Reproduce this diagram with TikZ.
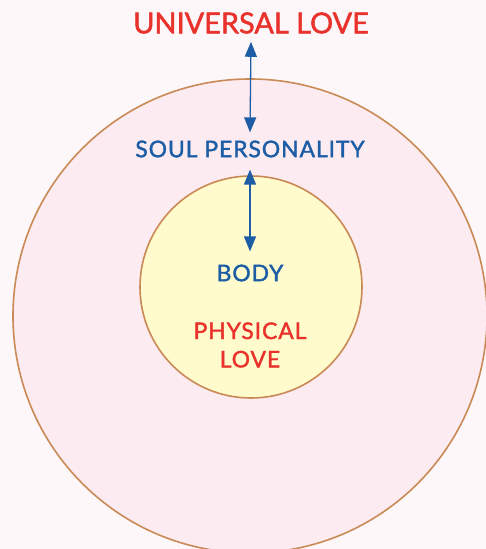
\documentclass[tikz,border=0pt]{standalone}
\usepackage{fontspec}
\setmainfont{Lato}
\newfontfamily\diagfont{Lato}[FakeBold=1.6]
\newfontfamily\diagwidefont{Lato}[FakeBold=1.6, LetterSpace=4]
\usepackage{xcolor}
\usetikzlibrary{arrows.meta}

\definecolor{pagebg}{HTML}{FDF7FA}
\definecolor{soulfill}{HTML}{FCEBF1}
\definecolor{bodyfill}{HTML}{FFFBCD}
\definecolor{rimcol}{HTML}{C98A55}
\definecolor{lovered}{HTML}{E8322B}
\definecolor{soulblue}{HTML}{1C5DA6}

\begin{document}
\begin{tikzpicture}[
    x=1bp, y=-1bp,
    ring/.style={
        circle,
        draw=rimcol,
        line width=1.6bp,
        inner sep=0pt
    },
    label/.style={
        font=\diagwidefont\fontsize{23}{28.5}\selectfont,
        align=center,
        inner sep=8bp
    },
    arrow/.style={{Triangle[length=15bp,width=12bp]}-{Triangle[length=15bp,width=12bp]}, line width=1.3bp, soulblue}
]

\fill[pagebg] (0,0) rectangle (486,549);
\useasboundingbox (0,0) rectangle (486,549);

\node[ring, fill=soulfill, minimum size=474bp] (soulring) at (250,316) {};
\node[ring, fill=bodyfill, minimum size=222bp] (bodyring) at (251,287) {};

\node[label, text=lovered, font=\diagfont\fontsize{29}{34}\selectfont] (universal) at (251,23) {UNIVERSAL LOVE};
\node[label, text=soulblue] (soul) at (250,149) {SOUL PERSONALITY};
\node[label, text=soulblue] (body) at (250,273) {BODY};
\node[label, text=lovered] (physical) at (250,345) {PHYSICAL\\LOVE};

\draw[arrow] (universal.south) -- (soul.north);
\draw[arrow, shorten <=4bp, shorten >=5bp] (soul.south) -- (body.north);

\end{tikzpicture}
\end{document}
